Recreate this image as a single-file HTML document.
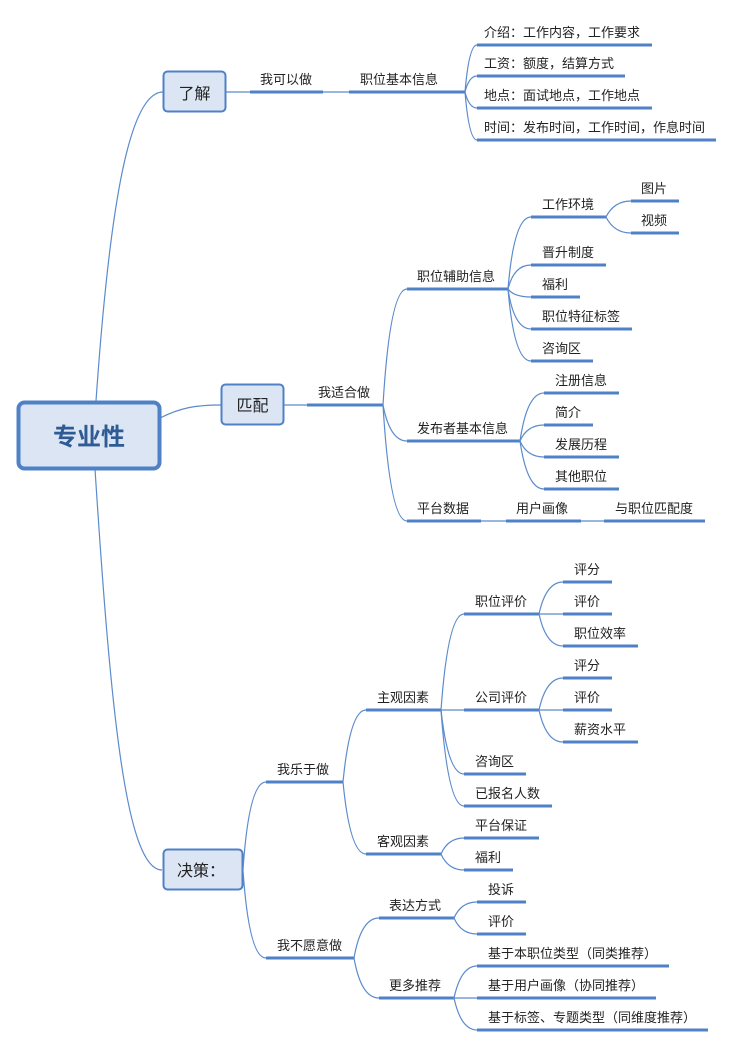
<!DOCTYPE html>
<html><head><meta charset="utf-8"><style>
html,body{margin:0;padding:0;background:#fff;width:735px;height:1047px;overflow:hidden}
svg text{font-family:"Liberation Sans","Noto Sans CJK SC",sans-serif;font-size:13px;fill:#222}
.u{stroke:#4f81c7;stroke-width:3;fill:none}
.c{stroke:#5b8bcc;stroke-width:1.2;fill:none}
</style></head><body>
<svg width="735" height="1047" viewBox="0 0 735 1047" xmlns="http://www.w3.org/2000/svg">
<!-- main connectors -->
<path class="c" d="M96 401 C 110 200, 130 92, 163 92"/>
<path class="c" d="M160 418 C 180 408, 195 405, 221 405"/>
<path class="c" d="M95 469 C 110 700, 125 870, 162 870"/>

<!-- center -->
<rect x="18.5" y="402.5" width="141" height="66" rx="6" fill="#dbe5f3" stroke="#4f81c7" stroke-width="4"/>
<text x="89" y="445" text-anchor="middle" style="font-size:24px;font-weight:bold;fill:#2f5b95">专业性</text>

<!-- 了解 -->
<rect x="163.5" y="71.5" width="62" height="40" rx="4" fill="#dbe5f3" stroke="#4f81c7" stroke-width="2"/>
<text x="194.5" y="99" text-anchor="middle" style="font-size:16px">了解</text>
<path class="c" d="M226 92 H250"/>
<path class="u" d="M250 92 H323"/><text x="260" y="84">我可以做</text>
<path class="c" d="M323 92 H349"/>
<path class="u" d="M349 92 H465"/><text x="360" y="84">职位基本信息</text>
<path class="c" d="M465 92 Q469 45 477 45"/><path class="c" d="M465 92 Q469 76 477 76"/>
<path class="c" d="M465 92 Q469 108 477 108"/><path class="c" d="M465 92 Q469 140 477 140"/>
<path class="u" d="M477 45 H652"/><text x="484" y="37">介绍：工作内容，工作要求</text>
<path class="u" d="M477 76 H625"/><text x="484" y="68">工资：额度，结算方式</text>
<path class="u" d="M477 108 H652"/><text x="484" y="100">地点：面试地点，工作地点</text>
<path class="u" d="M477 140 H716"/><text x="484" y="132">时间：发布时间，工作时间，作息时间</text>

<!-- 匹配 -->
<rect x="221.5" y="384.5" width="62" height="40" rx="4" fill="#dbe5f3" stroke="#4f81c7" stroke-width="2"/>
<text x="252.5" y="411" text-anchor="middle" style="font-size:16px">匹配</text>
<path class="c" d="M284 405 H307"/>
<path class="u" d="M307 405 H383"/><text x="318" y="397">我适合做</text>
<path class="c" d="M383 405 Q390 289 407 289"/><path class="c" d="M383 405 Q390 441 407 441"/><path class="c" d="M383 405 Q390 521 407 521"/>
<path class="u" d="M407 289 H508"/><text x="417" y="281">职位辅助信息</text>
<path class="u" d="M407 441 H520"/><text x="417" y="433">发布者基本信息</text>
<path class="u" d="M407 521 H481"/><text x="417" y="513">平台数据</text>
<path class="c" d="M508 289 Q514 217 531 217"/><path class="c" d="M508 289 Q514 265 531 265"/><path class="c" d="M508 289 Q514 297 531 297"/><path class="c" d="M508 289 Q514 329 531 329"/><path class="c" d="M508 289 Q514 361 531 361"/>
<path class="u" d="M531 217 H606"/><text x="542" y="209">工作环境</text>
<path class="u" d="M531 265 H606"/><text x="542" y="257">晋升制度</text>
<path class="u" d="M531 297 H580"/><text x="542" y="289">福利</text>
<path class="u" d="M531 329 H632"/><text x="542" y="321">职位特征标签</text>
<path class="u" d="M531 361 H593"/><text x="542" y="353">咨询区</text>
<path class="c" d="M606 217 Q614 201 631 201"/><path class="c" d="M606 217 Q614 233 631 233"/>
<path class="u" d="M631 201 H679"/><text x="641" y="193">图片</text>
<path class="u" d="M631 233 H679"/><text x="641" y="225">视频</text>
<path class="c" d="M520 441 Q527 393 544 393"/><path class="c" d="M520 441 Q527 425 544 425"/><path class="c" d="M520 441 Q527 457 544 457"/><path class="c" d="M520 441 Q527 489 544 489"/>
<path class="u" d="M544 393 H619"/><text x="555" y="385">注册信息</text>
<path class="u" d="M544 425 H593"/><text x="555" y="417">简介</text>
<path class="u" d="M544 457 H619"/><text x="555" y="449">发展历程</text>
<path class="u" d="M544 489 H619"/><text x="555" y="481">其他职位</text>
<path class="c" d="M481 521 H506"/>
<path class="u" d="M506 521 H581"/><text x="516" y="513">用户画像</text>
<path class="c" d="M581 521 H604"/>
<path class="u" d="M604 521 H705"/><text x="615" y="513">与职位匹配度</text>

<!-- 决策 -->
<rect x="163.5" y="849.5" width="79" height="40" rx="4" fill="#dbe5f3" stroke="#4f81c7" stroke-width="2"/>
<text x="177" y="876" style="font-size:16px">决策：</text>
<path class="c" d="M243 870 Q249 782 266 782"/><path class="c" d="M243 870 Q249 958 266 958"/>
<path class="u" d="M266 782 H343"/><text x="277" y="774">我乐于做</text>
<path class="u" d="M266 958 H354"/><text x="277" y="950">我不愿意做</text>
<path class="c" d="M343 782 Q350 710 366 710"/><path class="c" d="M343 782 Q350 854 366 854"/>
<path class="u" d="M366 710 H441"/><text x="377" y="702">主观因素</text>
<path class="u" d="M366 854 H441"/><text x="377" y="846">客观因素</text>
<path class="c" d="M441 710 Q448 614 464 614"/><path class="c" d="M441 710 H464"/><path class="c" d="M441 710 Q448 774 464 774"/><path class="c" d="M441 710 Q448 806 464 806"/>
<path class="u" d="M464 614 H539"/><text x="475" y="606">职位评价</text>
<path class="u" d="M464 710 H539"/><text x="475" y="702">公司评价</text>
<path class="u" d="M464 774 H526"/><text x="475" y="766">咨询区</text>
<path class="u" d="M464 806 H552"/><text x="475" y="798">已报名人数</text>
<path class="c" d="M539 614 Q546 582 563 582"/><path class="c" d="M539 614 H563"/><path class="c" d="M539 614 Q546 646 563 646"/>
<path class="u" d="M563 582 H612"/><text x="574" y="574">评分</text>
<path class="u" d="M563 614 H612"/><text x="574" y="606">评价</text>
<path class="u" d="M563 646 H638"/><text x="574" y="638">职位效率</text>
<path class="c" d="M539 710 Q546 678 563 678"/><path class="c" d="M539 710 H563"/><path class="c" d="M539 710 Q546 742 563 742"/>
<path class="u" d="M563 678 H612"/><text x="574" y="670">评分</text>
<path class="u" d="M563 710 H612"/><text x="574" y="702">评价</text>
<path class="u" d="M563 742 H638"/><text x="574" y="734">薪资水平</text>
<path class="c" d="M441 854 Q448 838 464 838"/><path class="c" d="M441 854 Q448 870 464 870"/>
<path class="u" d="M464 838 H539"/><text x="475" y="830">平台保证</text>
<path class="u" d="M464 870 H513"/><text x="475" y="862">福利</text>
<path class="c" d="M354 958 Q361 918 379 918"/><path class="c" d="M354 958 Q361 998 379 998"/>
<path class="u" d="M379 918 H454"/><text x="389" y="910">表达方式</text>
<path class="u" d="M379 998 H454"/><text x="389" y="990">更多推荐</text>
<path class="c" d="M454 918 Q461 902 477 902"/><path class="c" d="M454 918 Q461 934 477 934"/>
<path class="u" d="M477 902 H526"/><text x="488" y="894">投诉</text>
<path class="u" d="M477 934 H526"/><text x="488" y="926">评价</text>
<path class="c" d="M454 998 Q461 966 477 966"/><path class="c" d="M454 998 H477"/><path class="c" d="M454 998 Q461 1030 477 1030"/>
<path class="u" d="M477 966 H669"/><text x="488" y="958">基于本职位类型（同类推荐）</text>
<path class="u" d="M477 998 H656"/><text x="488" y="990">基于用户画像（协同推荐）</text>
<path class="u" d="M477 1030 H708"/><text x="488" y="1022">基于标签、专题类型（同维度推荐）</text>
</svg>
</body></html>
